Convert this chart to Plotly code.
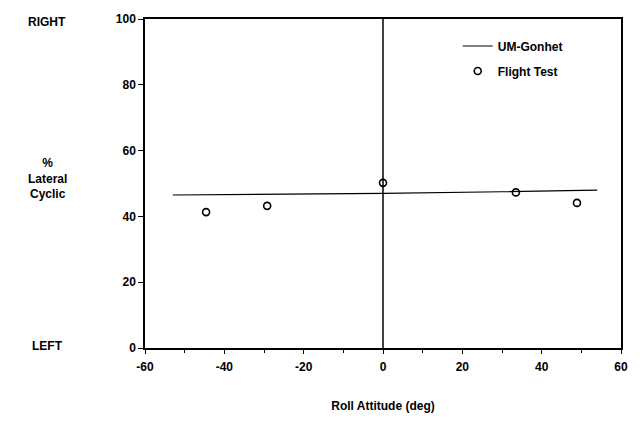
import plotly.graph_objects as go

# Model prediction (UM-Gonhet) and flight-test measurements
model_roll = [-53, -30, 0, 30, 54]
model_lat = [46.5, 46.7, 47.0, 47.5, 48.0]

test_roll = [-44.6, -29.2, 0.0, 33.5, 48.9]
test_lat = [41.3, 43.2, 50.2, 47.3, 44.1]

x_ticks = [-60, -40, -20, 0, 20, 40, 60]
x_labels = ["-60", "-40", "-20", "0", "20", "40", "60"]
y_ticks = [0, 20, 40, 60, 80, 100]

FONT = "Liberation Sans, Arial, sans-serif"
TXT = dict(family=FONT, size=12, color="black", weight="bold")

fig = go.Figure()

fig.add_trace(go.Scatter(
    x=model_roll, y=model_lat, mode="lines", name="UM-Gonhet", legendgroup="a",
    line=dict(color="black", width=1.2),
))
fig.add_trace(go.Scatter(
    x=test_roll, y=test_lat, mode="markers", name="Flight Test", legendgroup="b",
    marker=dict(symbol="circle-open", size=7, color="black", line=dict(width=1.6)),
))

# vertical reference line at zero roll
fig.add_shape(type="line", x0=0, x1=0, y0=0, y1=100, xref="x", yref="y",
              line=dict(color="black", width=1.5))

fig.update_xaxes(
    range=[-60, 60], tickvals=x_ticks, ticktext=x_labels,
    ticks="outside", ticklen=4, tickwidth=1.2, tickcolor="black",
    minor=dict(dtick=10, ticks="outside", ticklen=3, tickcolor="black"),
    showline=True, linecolor="black", linewidth=1.5, mirror=True,
    showgrid=False, zeroline=False,
    tickfont=TXT, ticklabelstandoff=3,
    title=dict(text="Roll Attitude (deg)", font=TXT, standoff=28),
)
fig.update_yaxes(
    range=[0, 100], tickvals=y_ticks,
    ticks="outside", ticklen=5, tickwidth=1.2, tickcolor="black",
    showline=True, linecolor="black", linewidth=1.5, mirror=True,
    showgrid=False, zeroline=False,
    tickfont=TXT,
)

lx = -0.205
fig.add_annotation(text="RIGHT", xref="paper", yref="y", x=lx, y=99,
                   showarrow=False, font=TXT, xanchor="center")
fig.add_annotation(text="%<br>Lateral<br>Cyclic", xref="paper", yref="y", x=lx, y=51.5,
                   showarrow=False, font=TXT, xanchor="center")
fig.add_annotation(text="LEFT", xref="paper", yref="y", x=lx, y=0.5,
                   showarrow=False, font=TXT, xanchor="center")

fig.update_layout(
    width=643, height=431,
    margin=dict(l=145, r=22, t=14, b=83),
    paper_bgcolor="white", plot_bgcolor="white",
    font=TXT,
    legend=dict(x=0.657, y=0.962, xanchor="left", yanchor="top",
                bgcolor="rgba(0,0,0,0)", borderwidth=0,
                font=TXT, traceorder="grouped", tracegroupgap=6),
    showlegend=True,
)

fig.write_html("out.html")
